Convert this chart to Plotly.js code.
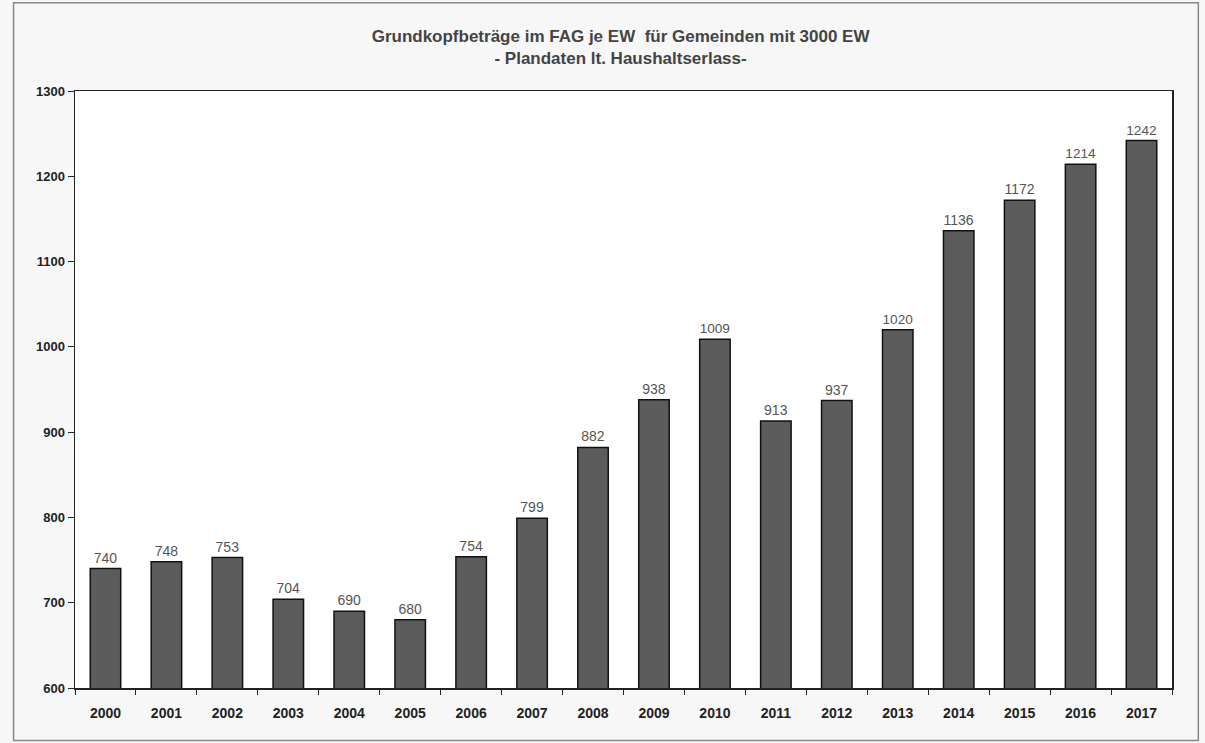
<!DOCTYPE html>
<html>
<head>
<meta charset="utf-8">
<script src="https://cdn.plot.ly/plotly-3.0.1.min.js"></script>
<style>
html,body{margin:0;padding:0;background:#fff;}
#chart{width:1205px;height:743px;}
</style>
</head>
<body>
<div id="chart"></div>
<script>
const years = ['2000','2001','2002','2003','2004','2005','2006','2007','2008','2009','2010','2011','2012','2013','2014','2015','2016','2017'];
const values = [740,748,753,704,690,680,754,799,882,938,1009,913,937,1020,1136,1172,1214,1242];
const yTicks = [600,700,800,900,1000,1100,1200,1300];

const trace = {
  type: 'bar',
  x: years,
  y: values,
  marker: {color: '#5c5c5c', line: {color: '#111', width: 1.5}},
  text: values.map(String),
  textposition: 'outside',
  textfont: {family: 'Liberation Sans, Arial, sans-serif', size: 14, color: '#555'},
  cliponaxis: false,
  hoverinfo: 'x+y'
};

const layout = {
  width: 1205, height: 743,
  paper_bgcolor: '#f7f7f7',
  plot_bgcolor: '#ffffff',
  margin: {l: 75, r: 33, t: 91, b: 55},
  bargap: 0.5,
  showlegend: false,
  title: {
    text: '<b>Grundkopfbeträge im FAG je EW  für Gemeinden mit 3000 EW</b><br><b>- Plandaten lt. Haushaltserlass-</b>',
    x: 0.515, xanchor: 'center', y: 0.943, yanchor: 'top',
    font: {family: 'Liberation Sans, Arial, sans-serif', size: 17, color: '#444'}
  },
  xaxis: {
    type: 'category',
    showline: true, linecolor: '#222', linewidth: 1.5, mirror: true,
    ticks: 'outside', tickson: 'boundaries', ticklen: 5, tickcolor: '#222',
    ticklabelstandoff: 12,
    tickfont: {family: 'Liberation Sans, Arial, sans-serif', size: 14, color: '#222', weight: 'bold'},
    showgrid: false
  },
  yaxis: {
    range: [600, 1300],
    tickvals: yTicks,
    ticktext: yTicks.map(String),
    showline: true, linecolor: '#222', linewidth: 1.5, mirror: true,
    ticks: 'outside', ticklen: 6, tickcolor: '#222',
    tickfont: {family: 'Liberation Sans, Arial, sans-serif', size: 13, color: '#222', weight: 'bold'},
    showgrid: false, zeroline: false
  },
  shapes: [{
    type: 'rect', xref: 'paper', yref: 'paper',
    x0: -0.056, x1: 1.024, y0: -0.088, y1: 0.148 + 1,
    line: {color: '#888', width: 1.5}, fillcolor: 'rgba(0,0,0,0)', layer: 'below'
  }],
  font: {family: 'Liberation Sans, Arial, sans-serif'}
};

Plotly.newPlot('chart', [trace], layout, {displayModeBar: false, staticPlot: true});
</script>
</body>
</html>
